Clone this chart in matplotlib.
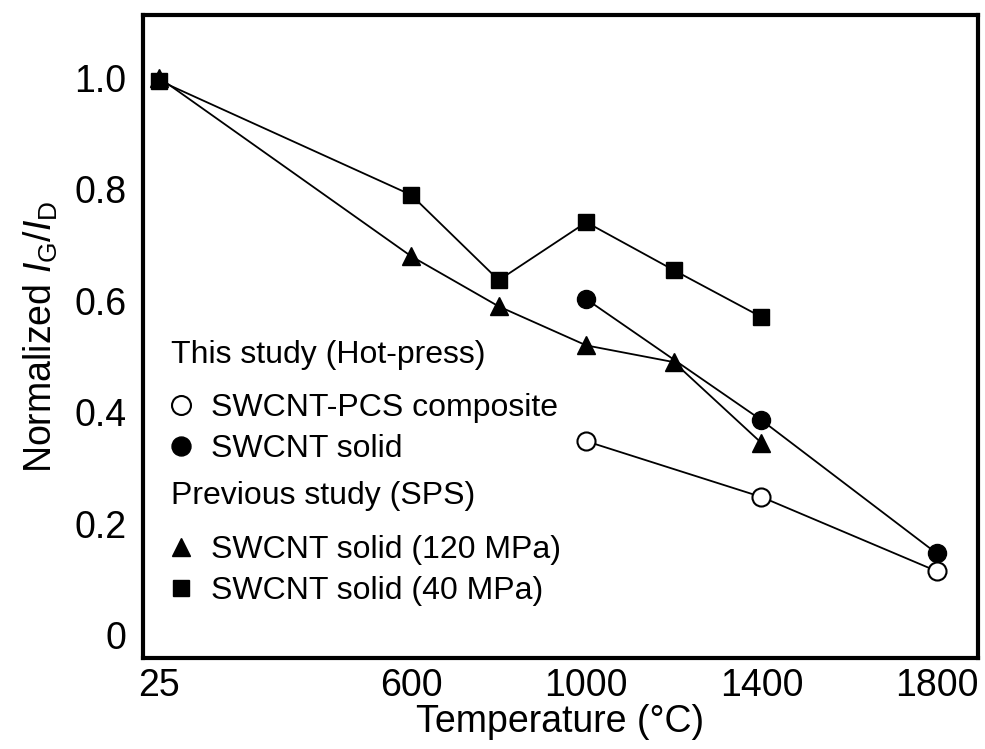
import matplotlib.pyplot as plt
from matplotlib.lines import Line2D

plt.rcParams['font.family'] = ['Liberation Sans', 'DejaVu Sans']
plt.rcParams['mathtext.fontset'] = 'custom'
plt.rcParams['mathtext.rm'] = 'Liberation Sans'
plt.rcParams['mathtext.it'] = 'Liberation Sans:italic'

# Data
temp_sps = [25, 600, 800, 1000, 1200, 1400]
sps_120 = [1.00, 0.68, 0.59, 0.52, 0.49, 0.345]
sps_40 = [0.995, 0.79, 0.637, 0.741, 0.655, 0.571]

temp_hp = [1000, 1400, 1800]
hp_solid = [0.603, 0.386, 0.147]
hp_composite = [0.348, 0.248, 0.115]

x_ticks = [25, 600, 1000, 1400, 1800]
y_ticks = [0, 0.2, 0.4, 0.6, 0.8, 1.0]
y_ticklabels = ['0', '0.2', '0.4', '0.6', '0.8', '1.0']

fig = plt.figure(figsize=(9.85, 7.49), dpi=100)
ax = fig.add_axes([0.145, 0.1215, 0.848, 0.8585])

ms = 13
lw = 1.3
ax.plot(temp_sps, sps_120, color='black', lw=lw, marker='^', ms=ms, zorder=3)
ax.plot(temp_sps, sps_40, color='black', lw=lw, marker='s', ms=ms - 1, zorder=3)
ax.plot(temp_hp, hp_solid, color='black', lw=lw, marker='o', ms=ms, zorder=4)
ax.plot(temp_hp, hp_composite, color='black', lw=lw, marker='o', ms=ms,
        mfc='white', mec='black', mew=1.5, zorder=4)

ax.set_xlim(-13, 1895)
ax.set_ylim(-0.041, 1.113)
ax.set_xticks(x_ticks)
ax.set_xticklabels([str(t) for t in x_ticks])
ax.set_yticks(y_ticks)
ax.set_yticklabels(y_ticklabels)
ax.tick_params(length=0, labelsize=27)
ax.tick_params(axis='x', pad=7)
ax.tick_params(axis='y', pad=12)

for s in ax.spines.values():
    s.set_linewidth(3)

ax.set_xlabel('Temperature (°C)', fontsize=27, labelpad=0)
ax.set_ylabel(r'Normalized $\mathit{I}_{\mathrm{G}}/\mathit{I}_{\mathrm{D}}$',
              fontsize=27, labelpad=10)

# Legends (two groups with headers)
h_comp = Line2D([], [], ls='none', marker='o', ms=ms, mfc='white', mec='black', mew=1.5, color='black')
h_solid = Line2D([], [], ls='none', marker='o', ms=ms, color='black')
h_tri = Line2D([], [], ls='none', marker='^', ms=ms, color='black')
h_sq = Line2D([], [], ls='none', marker='s', ms=ms - 2, color='black')

leg_kw = dict(loc='upper left', frameon=False, fontsize=23, title_fontsize=23,
              handlelength=0.6, handletextpad=0.65, borderpad=0, borderaxespad=0,
              labelspacing=0.35, markerscale=1.05, alignment='left')
leg1 = ax.legend([h_comp, h_solid], ['SWCNT-PCS composite', 'SWCNT solid'],
                 title='This study (Hot-press)', bbox_to_anchor=(0.034, 0.495), **leg_kw)
leg1._legend_box.sep = 17
ax.add_artist(leg1)
leg2 = ax.legend([h_tri, h_sq], ['SWCNT solid (120 MPa)', 'SWCNT solid (40 MPa)'],
                 title='Previous study (SPS)', bbox_to_anchor=(0.034, 0.275), **leg_kw)
leg2._legend_box.sep = 17

fig.savefig('out.png', dpi=100)
